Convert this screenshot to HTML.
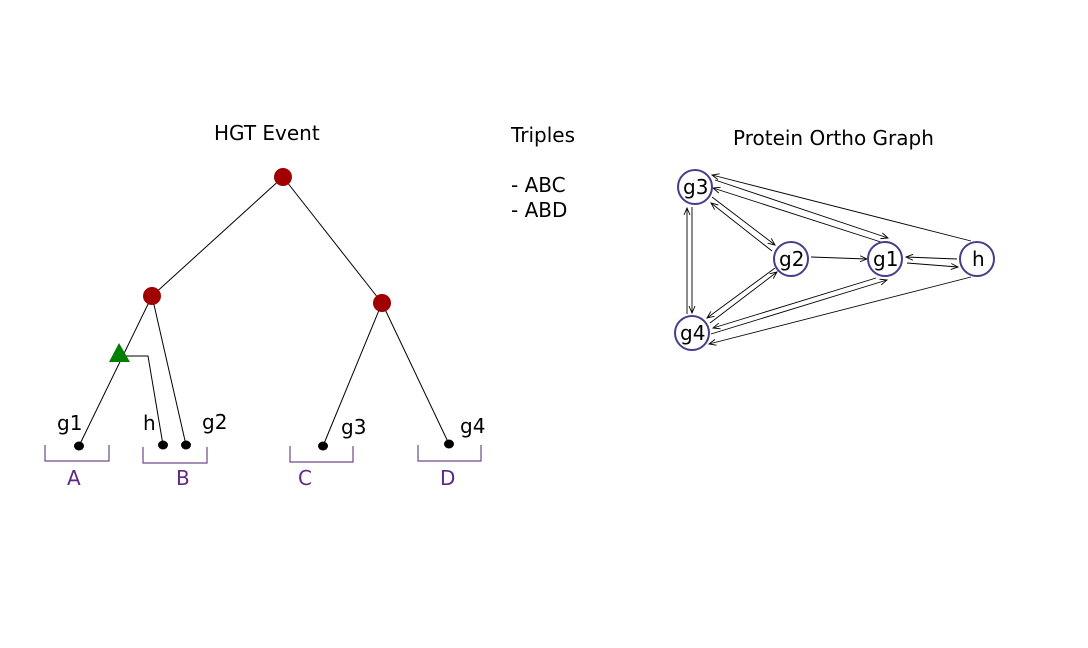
<!DOCTYPE html>
<html><head><meta charset="utf-8"><style>
html,body{margin:0;padding:0;background:#fff;}
svg text{font-family:"DejaVu Sans","Liberation Sans",sans-serif;}
</style></head><body>
<svg id="s" width="1088" height="643" viewBox="0 0 1088 643" xmlns="http://www.w3.org/2000/svg">
<rect width="1088" height="643" fill="#fff"/>
<text x="214" y="140" font-size="20">HGT Event</text>
<text x="511" y="142" font-size="20">Triples</text>
<text x="511" y="192" font-size="20">- ABC</text>
<text x="511" y="217" font-size="20">- ABD</text>
<text x="733" y="145" font-size="20">Protein Ortho Graph</text>
<g stroke="#000" stroke-width="1" fill="none">
<line x1="283" y1="177" x2="152" y2="296"/>
<line x1="283" y1="177" x2="382" y2="303"/>
<line x1="152" y1="296" x2="79" y2="446"/>
<line x1="152" y1="296" x2="186" y2="445"/>
<line x1="382" y1="303" x2="323" y2="446"/>
<line x1="382" y1="303" x2="449" y2="444"/>
<polyline points="126,356 148,356 163,445"/>
</g>
<circle cx="283" cy="177" r="9" fill="#a00000"/>
<circle cx="152" cy="296" r="9" fill="#a00000"/>
<circle cx="382" cy="303" r="9" fill="#a00000"/>
<polygon points="119,343 109,362 130,362" fill="#008000"/>
<g fill="#000">
<ellipse cx="79" cy="446" rx="5" ry="4.5"/>
<ellipse cx="163" cy="445" rx="5" ry="4.5"/>
<ellipse cx="186" cy="445" rx="5" ry="4.5"/>
<ellipse cx="323" cy="446" rx="5" ry="4.5"/>
<ellipse cx="449" cy="444" rx="5" ry="4.5"/>
</g>
<g font-size="20">
<text x="57" y="430">g1</text>
<text x="143" y="430">h</text>
<text x="202" y="429">g2</text>
<text x="341" y="434">g3</text>
<text x="460" y="433">g4</text>
</g>
<g stroke="#6a4a8a" stroke-width="1.2" fill="none">
<polyline points="45,445 45,461 109,461 109,445"/>
<polyline points="143,447 143,463 207,463 207,447"/>
<polyline points="290,446 290,462 353,462 353,446"/>
<polyline points="418,445 418,461 481,461 481,445"/>
</g>
<g font-size="20" fill="#5b2a86">
<text x="67" y="485">A</text>
<text x="176" y="485">B</text>
<text x="298" y="485">C</text>
<text x="440" y="485">D</text>
</g>
<g id="edges" stroke="#000" stroke-width="0.9" fill="none"></g>
<g stroke="#463e8c" stroke-width="2" fill="#fff">
<circle cx="695" cy="187" r="17"/>
<circle cx="791" cy="259" r="17"/>
<circle cx="885" cy="259" r="17"/>
<circle cx="977" cy="259" r="17"/>
<circle cx="692" cy="333" r="17"/>
</g>
<g font-size="20">
<text x="683" y="194">g3</text>
<text x="779" y="266">g2</text>
<text x="873" y="266">g1</text>
<text x="972" y="266">h</text>
<text x="680" y="340">g4</text>
</g>
</svg>
<script>
var L=[
[971,241,712,175],
[715,180,888,238],
[884,243,713,188],
[712,197,775,245],
[772,251,711,203],
[692,207,692,313],
[687,314,687,208],
[811,257,867,259],
[957,259,906,257],
[907,263,958,267],
[775,268,707,318],
[710,323,777,272],
[876,278,713,328],
[711,334,887,280],
[971,277,709,344]];
var g=document.getElementById('edges'),s='';
L.forEach(function(e){var x1=e[0],y1=e[1],x2=e[2],y2=e[3];var dx=x2-x1,dy=y2-y1,l=Math.hypot(dx,dy),ux=dx/l,uy=dy/l,px=-uy,py=ux;
s+='<line x1="'+x1+'" y1="'+y1+'" x2="'+x2+'" y2="'+y2+'"/>';
var h=7,w=3;
s+='<polyline points="'+(x2-ux*h+px*w)+','+(y2-uy*h+py*w)+' '+x2+','+y2+' '+(x2-ux*h-px*w)+','+(y2-uy*h-py*w)+'"/>';});
g.innerHTML=s;
</script>
</body></html>
